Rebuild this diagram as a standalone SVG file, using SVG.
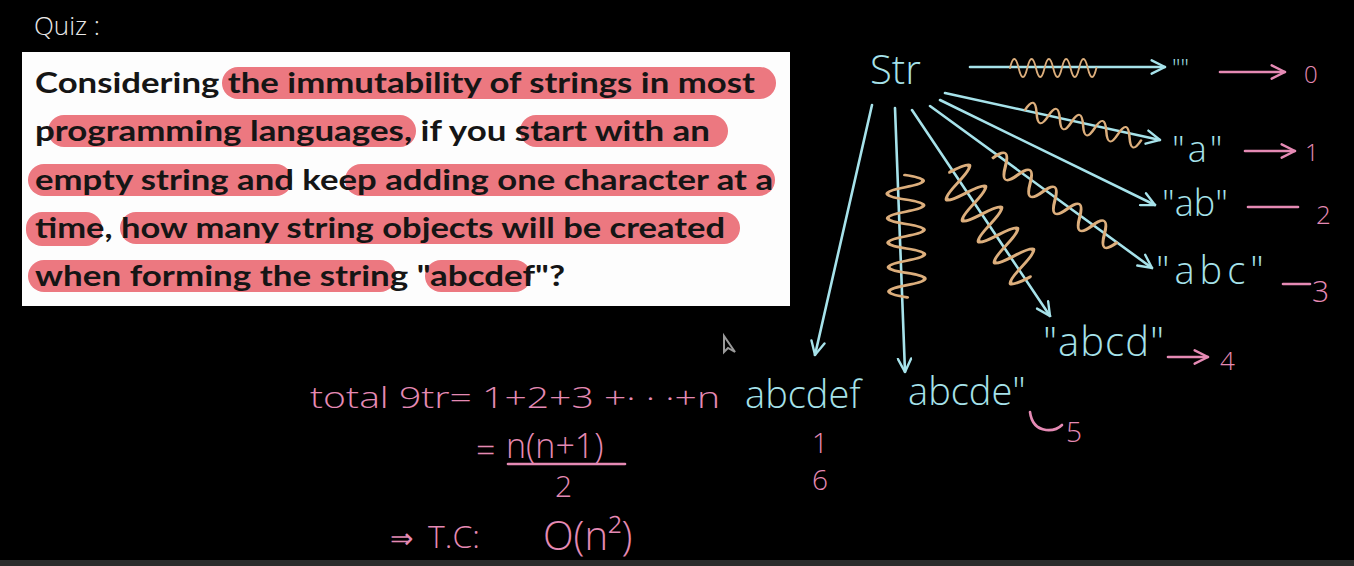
<svg xmlns="http://www.w3.org/2000/svg" width="1354" height="566" viewBox="0 0 1354 566">
<defs>
<style>
.q{font-family:"Lato","Open Sans","Liberation Sans",sans-serif;font-weight:700;font-size:29px;fill:#151515}
.hl{fill:#ec7880}
.hand{font-family:"Open Sans","DejaVu Sans",sans-serif;font-weight:300}
.cy{fill:#a6e2ea}
.pk{fill:#e58ab4}
.wh{fill:#e8e8e8}
.cl{stroke:#a6e2ea;stroke-width:2.6;fill:none;stroke-linecap:round}
.pl{stroke:#e58ab4;stroke-width:2.6;fill:none;stroke-linecap:round}
.wv{stroke:#dcae7c;stroke-width:2.6;fill:none;stroke-linecap:round;stroke-linejoin:round;vector-effect:non-scaling-stroke}
</style>
<marker id="ac" viewBox="0 0 12 12" refX="11" refY="6" markerWidth="16" markerHeight="16" markerUnits="userSpaceOnUse" orient="auto"><path d="M1 1 L11 6 L1 11" fill="none" stroke="#a6e2ea" stroke-width="1.8" stroke-linecap="round"/></marker>
<marker id="ap" viewBox="0 0 12 12" refX="11" refY="6" markerWidth="16" markerHeight="16" markerUnits="userSpaceOnUse" orient="auto"><path d="M1 1 L11 6 L1 11" fill="none" stroke="#e58ab4" stroke-width="1.8" stroke-linecap="round"/></marker>
<path id="wave" d="M0 0 q6 -24 12 0 t12 0 t12 0 t12 0 t12 0 t12 0 t12 0 t12 0 t12 0 t12 0"/>
</defs>
<rect width="1354" height="566" fill="#000"/>
<rect x="0" y="560" width="1354" height="6" fill="#2b2b2b"/>

<g id="quiz-label"><text x="34" y="35" class="hand wh" font-size="26">Quiz :</text></g>

<g id="question">
<rect x="22" y="52" width="768" height="254" fill="#fdfdfd"/>
<rect class="hl" x="222" y="67" width="554" height="32" rx="16"/>
<rect class="hl" x="48" y="115" width="368" height="32" rx="16"/>
<rect class="hl" x="520" y="115" width="208" height="32" rx="16"/>
<rect class="hl" x="28" y="164" width="264" height="32" rx="16"/>
<rect class="hl" x="345" y="164" width="430" height="32" rx="16"/>
<rect class="hl" x="26" y="212" width="76" height="34" rx="16"/>
<rect class="hl" x="120" y="212" width="620" height="32" rx="16"/>
<rect class="hl" x="28" y="260" width="368" height="32" rx="16"/>
<rect class="hl" x="425" y="260" width="106" height="32" rx="16"/>
<text class="q" x="35" y="93" textLength="720" lengthAdjust="spacingAndGlyphs">Considering the immutability of strings in most</text>
<text class="q" x="35" y="141" textLength="675" lengthAdjust="spacingAndGlyphs">programming languages, if you start with an</text>
<text class="q" x="35" y="190" textLength="738" lengthAdjust="spacingAndGlyphs">empty string and keep adding one character at a</text>
<text class="q" x="35" y="238" textLength="690" lengthAdjust="spacingAndGlyphs">time, how many string objects will be created</text>
<text class="q" x="35" y="286" textLength="530" lengthAdjust="spacingAndGlyphs">when forming the string "abcdef"?</text>
</g>

<g id="str"><text x="870" y="84" class="hand cy" font-size="40">Str</text></g>

<g id="connectors">
<line class="cl" x1="970" y1="67" x2="1165" y2="67" marker-end="url(#ac)"/>
<line class="cl" x1="945" y1="93" x2="1160" y2="140" marker-end="url(#ac)"/>
<line class="cl" x1="940" y1="100" x2="1155" y2="205" marker-end="url(#ac)"/>
<line class="cl" x1="930" y1="106" x2="1152" y2="268" marker-end="url(#ac)"/>
<line class="cl" x1="912" y1="110" x2="1050" y2="316" marker-end="url(#ac)"/>
<line class="cl" x1="895" y1="108" x2="905" y2="372" marker-end="url(#ac)"/>
<line class="cl" x1="872" y1="105" x2="815" y2="355" marker-end="url(#ac)"/>
<use href="#wave" class="wv" transform="translate(1010 68) scale(0.72 0.75)"/>
<use href="#wave" class="wv" transform="translate(1025 110) rotate(14.6) scale(1.0 0.75)"/>
<use href="#wave" class="wv" transform="translate(993 158) rotate(34.4) scale(1.25 0.9)"/>
<use href="#wave" class="wv" transform="translate(950 172) rotate(52.7) scale(1.1 1.6)"/>
<use href="#wave" class="wv" transform="translate(905 175) rotate(89) scale(1.02 1.5)"/>
<line class="pl" x1="1220" y1="72" x2="1285" y2="72" marker-end="url(#ap)"/>
<line class="pl" x1="1245" y1="151" x2="1295" y2="151" marker-end="url(#ap)"/>
<line class="pl" x1="1248" y1="207" x2="1298" y2="207"/>
<line class="pl" x1="1283" y1="284" x2="1310" y2="284"/>
<line class="pl" x1="1168" y1="357" x2="1208" y2="357" marker-end="url(#ap)"/>
<path class="pl" d="M1030 412 q2 16 16 18 q10 1 16 -5"/>
</g>

<g id="labels">
<text x="1172" y="76" class="hand cy" font-size="24">""</text>
<text x="1172" y="162" class="hand cy" font-size="36" letter-spacing="3">"a"</text>
<text x="1162" y="216" class="hand cy" font-size="36">"ab"</text>
<text x="1156" y="284" class="hand cy" font-size="38" letter-spacing="5">"abc"</text>
<text x="1043" y="356" class="hand cy" font-size="40" letter-spacing="1">"abcd"</text>
<text x="908" y="405" class="hand cy" font-size="38">abcde"</text>
<text x="745" y="408" class="hand cy" font-size="38">abcdef</text>
<text x="1304" y="83" class="hand pk" font-size="24">0</text>
<text x="1305" y="161" class="hand pk" font-size="24">1</text>
<text x="1316" y="224" class="hand pk" font-size="26">2</text>
<text x="1312" y="302" class="hand pk" font-size="30">3</text>
<text x="1220" y="370" class="hand pk" font-size="26">4</text>
<text x="1066" y="442" class="hand pk" font-size="28">5</text>
<text x="812" y="453" class="hand pk" font-size="28">1</text>
<text x="812" y="490" class="hand pk" font-size="28">6</text>
</g>

<g id="math">
<text x="310" y="408" class="hand pk" font-size="30" textLength="410" lengthAdjust="spacingAndGlyphs">total 9tr= 1+2+3 +· · ·+n</text>
<text x="476" y="462" class="hand pk" font-size="34">=</text>
<text x="506" y="458" class="hand pk" font-size="34">n(n+1)</text>
<line class="pl" x1="508" y1="464" x2="625" y2="464"/>
<text x="555" y="497" class="hand pk" font-size="30">2</text>
<text x="390" y="548" class="hand pk" font-size="28">⇒</text>
<text x="428" y="548" class="hand pk" font-size="32">T.C:</text>
<text x="543" y="550" class="hand pk" font-size="40">O(n²)</text>
</g>

<g id="cursor"><path d="M724 336 L724 352 L728 348 L735 352 Z" fill="none" stroke="#9a9a9a" stroke-width="2"/></g>
</svg>
